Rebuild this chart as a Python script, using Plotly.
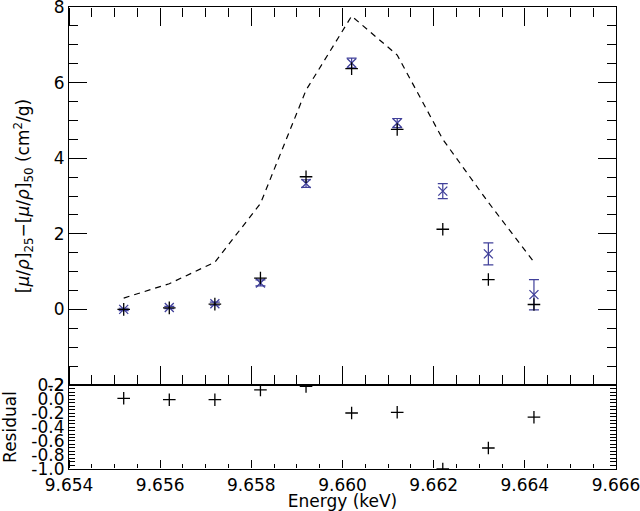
import plotly.graph_objects as go

energy = [9.6552, 9.6562, 9.6572, 9.6582, 9.6592, 9.6602, 9.6612, 9.6622, 9.6632, 9.6642]
model = [0.30, 0.68, 1.25, 2.80, 5.80, 7.76, 6.73, 4.50, 2.83, 1.25]
measured = [0.00, 0.05, 0.15, 0.70, 3.33, 6.52, 4.93, 3.13, 1.47, 0.39]
measured_err = [0.03, 0.03, 0.04, 0.08, 0.10, 0.13, 0.12, 0.20, 0.29, 0.40]
fitted = [0.00, 0.04, 0.14, 0.83, 3.51, 6.37, 4.76, 2.12, 0.79, 0.13]
residual = [0.01, -0.01, -0.01, 0.13, 0.18, -0.20, -0.19, -1.00, -0.70, -0.26]

x_ticks = [9.654, 9.656, 9.658, 9.660, 9.662, 9.664, 9.666]
x_labels = ["9.654", "9.656", "9.658", "9.660", "9.662", "9.664", "9.666"]
y_ticks = [-2, 0, 2, 4, 6, 8]
y_labels = ["-2", "0", "2", "4", "6", "8"]
r_ticks = [-1.0, -0.8, -0.6, -0.4, -0.2, 0.0, 0.2]
r_labels = ["-1.0", "-0.8", "-0.6", "-0.4", "-0.2", "0.0", "0.2"]

BLUE = "#40409a"
FONT = "DejaVu Sans"
EPS = 1e-7
TF = dict(family=FONT, size=17, color="black")
XR = [9.654 - EPS, 9.666 + EPS]
SPLIT = 0.1818

fig = go.Figure()
fig.add_trace(go.Scatter(x=energy, y=model, mode="lines", xaxis="x2", yaxis="y2",
                         line=dict(color="black", width=1.2, dash="6px,5px"),
                         showlegend=False))
fig.add_trace(go.Scatter(x=energy, y=measured, mode="markers", xaxis="x2", yaxis="y2",
                         marker=dict(symbol="x-thin-open", size=9, color=BLUE,
                                     line=dict(color=BLUE, width=1.3)),
                         error_y=dict(type="data", array=measured_err, visible=True,
                                      color=BLUE, thickness=1.2, width=5),
                         showlegend=False))
fig.add_trace(go.Scatter(x=energy, y=fitted, mode="markers", xaxis="x2", yaxis="y2",
                         marker=dict(symbol="cross-thin-open", size=9, color="black",
                                     line=dict(color="black", width=1.3)),
                         showlegend=False))
fig.add_trace(go.Scatter(x=energy, y=residual, mode="markers", xaxis="x", yaxis="y",
                         marker=dict(symbol="cross-thin-open", size=9, color="black",
                                     line=dict(color="black", width=1.3)),
                         showlegend=False))

# tick-only x axes: outward ticks of an axis sitting on the far edge point into the panel
# (xref, yref, side, major?, length)
tick_specs = [
    ("x3", "y3", "top", True, 8),      # residual bottom edge, major
    ("x4", "y3", "top", False, 4),     # residual bottom edge, minor
    ("x5", "y", "top", True, 18),      # main bottom edge, major
    ("x6", "y", "top", False, 9),      # main bottom edge, minor
    ("x7", "y4", "bottom", True, 18),  # main top edge, major
    ("x8", "y4", "bottom", False, 9),  # main top edge, minor
]

layout_axes = {}
for xref, yref, side, major, length in tick_specs:
    fig.add_trace(go.Scatter(x=[], y=[], xaxis=xref, yaxis=yref, mode="markers",
                             showlegend=False, hoverinfo="skip"))
    ax = dict(type="linear", anchor=yref, domain=[0, 1], range=XR, side=side,
              showticklabels=False, showline=False, showgrid=False, zeroline=False,
              ticks="outside", ticklen=length, tickwidth=1, tickcolor="black")
    if major:
        ax.update(tickmode="array", tickvals=x_ticks)
    else:
        ax.update(tickmode="linear", tick0=9.654, dtick=0.0005)
    layout_axes["xaxis" + xref[1:]] = ax

hidden_y = dict(range=[0, 1], showline=False, showticklabels=False, ticks="",
                showgrid=False, zeroline=False, fixedrange=True)
layout_axes["yaxis3"] = dict(anchor="x3", domain=[0, 0.001], **hidden_y)
layout_axes["yaxis4"] = dict(anchor="x7", domain=[0.999, 1], **hidden_y)

fig.update_layout(
    width=640, height=511,
    margin=dict(l=69, r=24, t=7, b=42, autoexpand=False),
    paper_bgcolor="white", plot_bgcolor="rgba(0,0,0,0)",
    font=dict(family=FONT, size=17, color="black"),
    xaxis=dict(type="linear", anchor="y", domain=[0, 1], range=XR,
               tickmode="array", tickvals=x_ticks, ticktext=x_labels, ticks="",
               showline=True, linecolor="black", linewidth=1.2, mirror=True,
               showgrid=False, zeroline=False, tickfont=TF, ticklabeloverflow="allow",
               title=dict(text="Energy (keV)", standoff=2, font=TF)),
    xaxis2=dict(type="linear", anchor="y2", domain=[0, 1], range=XR,
                tickmode="array", tickvals=x_ticks, showticklabels=False, ticks="",
                showline=True, linecolor="black", linewidth=1.2, mirror=True,
                showgrid=False, zeroline=False),
    yaxis=dict(anchor="x", domain=[0, SPLIT], range=[-1.0 - EPS, 0.2 + EPS],
               tickmode="array", tickvals=r_ticks, ticktext=r_labels,
               ticks="inside", ticklen=6, tickwidth=1, tickcolor="black",
               showline=True, linecolor="black", linewidth=1.2, mirror="allticks",
               showgrid=False, zeroline=False, tickfont=TF, ticklabeloverflow="allow",
               minor=dict(tickmode="linear", tick0=0, dtick=0.05,
                          ticklen=3, ticks="inside", tickcolor="black", tickwidth=1),
               title=dict(text="Residual", standoff=12, font=TF)),
    yaxis2=dict(anchor="x2", domain=[SPLIT, 1], range=[-2 - EPS, 8 + EPS],
                tickmode="array", tickvals=y_ticks, ticktext=y_labels,
                ticks="inside", ticklen=18, tickwidth=1.2, tickcolor="black",
                showline=True, linecolor="black", linewidth=1.2, mirror="allticks",
                showgrid=False, zeroline=False, tickfont=TF, ticklabeloverflow="allow",
                minor=dict(tickmode="linear", tick0=0, dtick=0.5,
                           ticklen=9, ticks="inside", tickcolor="black", tickwidth=1.2),
                title=dict(text="[<i>μ</i>/<i>ρ</i>]<sub>25</sub>−[<i>μ</i>/<i>ρ</i>]<sub>50</sub> (cm<sup>2</sup>/g)",
                           standoff=13, font=TF)),
    **layout_axes,
)

fig.write_html("out.html",
               config={"displayModeBar": False},
               post_script="document.body.style.margin='0';document.body.style.overflow='hidden';")
